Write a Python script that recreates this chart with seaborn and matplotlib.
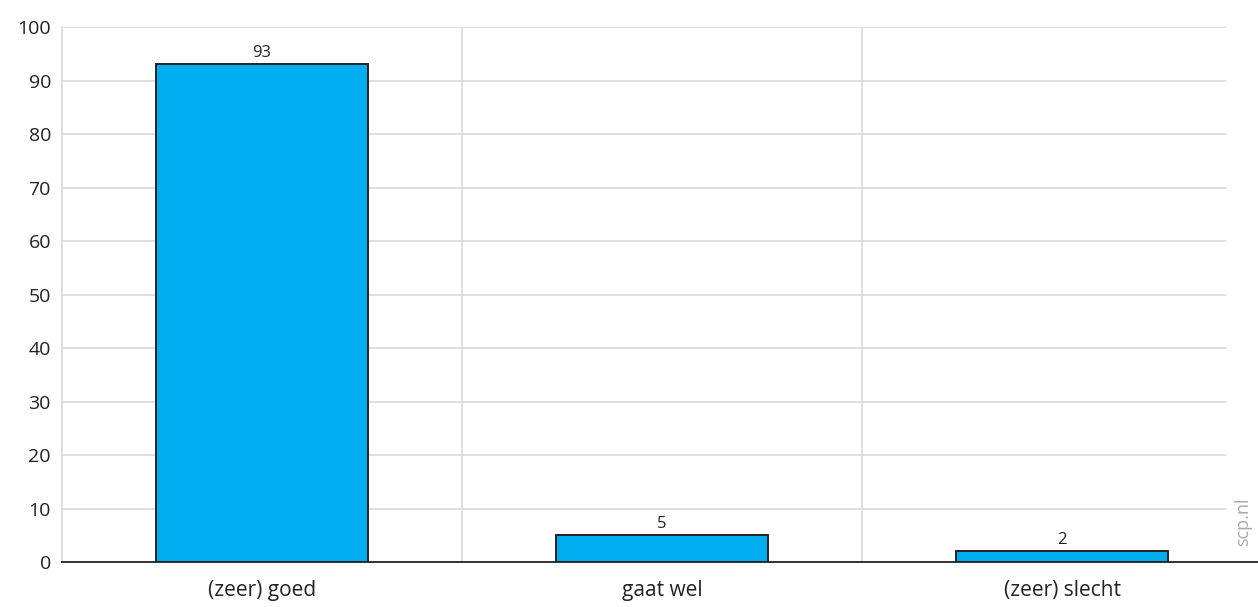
import matplotlib
matplotlib.use("Agg")
import matplotlib.pyplot as plt
import seaborn as sns
import pandas as pd

categories = ["(zeer) goed", "gaat wel", "(zeer) slecht"]
values = [93, 5, 2]
yticks = [0, 10, 20, 30, 40, 50, 60, 70, 80, 90, 100]

df = pd.DataFrame({"cat": categories, "val": values})

sns.set_style("white")
plt.rcParams["font.family"] = ["Open Sans", "DejaVu Sans"]

fig = plt.figure(figsize=(12.58, 6.07), dpi=100)
ax = fig.add_axes([0.0493, 0.0741, 0.9507, 0.8814])

sns.barplot(data=df, x="cat", y="val", color="#00AEEF", saturation=1,
            width=0.53, edgecolor="#222222", linewidth=1.4, ax=ax, zorder=3)

# value labels on top of bars
for i, v in enumerate(values):
    ax.text(i, v + 0.6, str(v), ha="center", va="bottom", fontsize=12, color="#222222")

ax.set_ylim(0, 100)
ax.set_xlim(-0.5, 2.49)
ax.set_yticks(yticks)
ax.set_yticklabels([str(t) for t in yticks], fontsize=14, color="#222222")
ax.set_xlabel("")
ax.set_ylabel("")

# horizontal grid + vertical separators between categories
for t in yticks[1:]:
    ax.axhline(t, xmax=0.973, color="#d9d9d9", linewidth=1.2, zorder=0)
for xs in [0.5, 1.5]:
    ax.axvline(xs, color="#d9d9d9", linewidth=1.2, zorder=0)

ax.tick_params(axis="y", length=0, pad=8)
ax.tick_params(axis="x", length=9, width=1.3, color="#222222", labelsize=15,
               labelcolor="#222222", pad=4)

for s in ["top", "right"]:
    ax.spines[s].set_visible(False)
ax.spines["left"].set_color("#d9d9d9")
ax.spines["left"].set_linewidth(1.2)
ax.spines["bottom"].set_color("#222222")
ax.spines["bottom"].set_linewidth(1.3)
ax.spines["bottom"].set_zorder(4)

fig.text(0.988, 0.14, "scp.nl", rotation=90, ha="center", va="center",
         fontsize=13, color="#aaaaaa")

fig.savefig("out.png", dpi=100)
